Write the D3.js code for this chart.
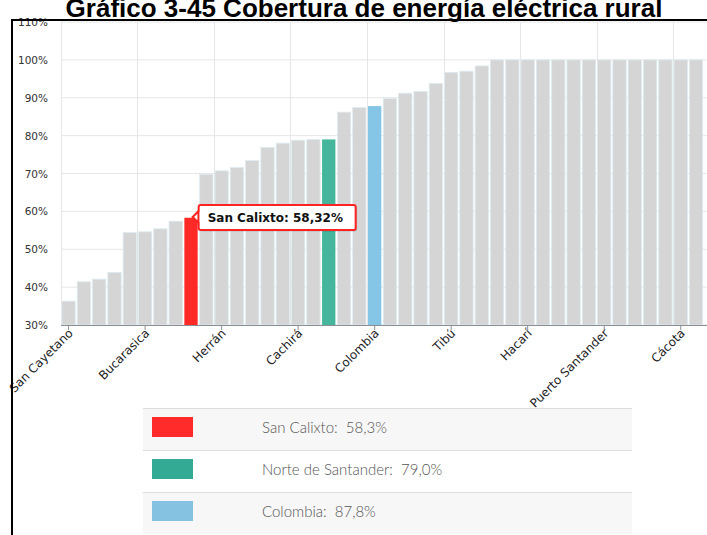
<!DOCTYPE html>
<html><head><meta charset="utf-8">
<script src="https://cdn.jsdelivr.net/npm/d3@7"></script>
<style>
html,body{margin:0;padding:0;background:#fff;overflow:hidden;}
svg{display:block;}
</style></head>
<body>
<svg id="chart" width="707" height="535"></svg>
<script>
const title = "Gráfico 3-45 Cobertura de energía eléctrica rural";
const categories = ["San Cayetano","m1","m2","m3","m4","Bucarasica","m6","m7","San Calixto","m9",
 "Herrán","m11","m12","m13","m14","Cachirá","m16","Norte de Santander","m18","m19",
 "Colombia","m21","m22","m23","m24","Tibú","m26","m27","m28","m29",
 "Hacarí","m31","m32","m33","m34","Puerto Santander","m36","m37","m38","m39",
 "Cácota","m41"];
const values = [36.3,41.4,42.1,43.9,54.4,54.6,55.4,57.4,58.32,69.8,
 70.7,71.6,73.4,76.9,78.0,78.8,79.0,79.0,86.2,87.4,
 87.8,89.8,91.2,91.7,93.8,96.7,97.0,98.4,100,100,
 100,100,100,100,100,100,100,100,100,100,
 100,100];
const tickLabels = ["San Cayetano","Bucarasica","Herrán","Cachirá","Colombia","Tibú","Hacarí","Puerto Santander","Cácota"];
const highlightNames = ["San Calixto","Norte de Santander","Colombia"];
const highlightColors = ["#ff2a26","#45b59b","#85c5e6"];
const legendLabels = ["San Calixto:  58,3%","Norte de Santander:  79,0%","Colombia:  87,8%"];
const legendColors = ["#ff2a2a","#33ab94","#85c1e1"];
const yTicks = [30,40,50,60,70,80,90,100,110];
const tooltipText = "San Calixto: 58,32%";

const svg = d3.select("#chart");
const x = d3.scaleBand().domain(d3.range(categories.length)).range([61, 61 + categories.length*15.3]).paddingInner(0.13).paddingOuter(0.06);
const y = d3.scaleLinear().domain([30,110]).range([325,22]);

// gridlines
svg.append("g").selectAll("line.h").data(yTicks).join("line")
  .attr("x1",61).attr("x2",707).attr("y1",d=>y(d)).attr("y2",d=>y(d))
  .attr("stroke","#e6e6e6").attr("stroke-width",1);
const tickIdx = d3.range(0, categories.length, 5);
svg.append("g").selectAll("line.v").data(tickIdx).join("line")
  .attr("x1",d=>Math.round(x(d)-x.step()*x.paddingInner()/2)+0.5)
  .attr("x2",d=>Math.round(x(d)-x.step()*x.paddingInner()/2)+0.5)
  .attr("y1",y(110)).attr("y2",y(30))
  .attr("stroke","#e6e6e6").attr("stroke-width",1);

// bars
svg.append("g").selectAll("rect").data(values).join("rect")
  .attr("x",(d,i)=>x(i)).attr("width",x.bandwidth())
  .attr("y",d=>y(d)).attr("height",d=>y(30)-y(d))
  .attr("fill",(d,i)=>{const k=highlightNames.indexOf(categories[i]);return k>=0?highlightColors[k]:"#d5d5d5";})
  .attr("stroke",(d,i)=>highlightNames.indexOf(categories[i])>=0?"none":"#dcebf1")
  .attr("stroke-width",0.8);

// y labels
svg.append("g").selectAll("text").data(yTicks).join("text")
  .attr("x",48).attr("y",d=>y(d)+4).attr("text-anchor","end")
  .attr("font-family","DejaVu Sans, Verdana, sans-serif").attr("font-size","10.5px").attr("fill","#333")
  .text(d=>d+"%");

// x axis
const xAxis = d3.axisBottom(x).tickValues(tickIdx).tickSize(5).tickSizeOuter(0)
  .tickFormat(i=>categories[i]);
const gx = svg.append("g").attr("transform","translate(0,325)").call(xAxis);
gx.select(".domain").attr("stroke","#8a8f95").attr("d","M61,0.5H707");
gx.selectAll(".tick line").attr("stroke","#8a8f95");
gx.selectAll(".tick text")
  .attr("font-family","DejaVu Sans, Verdana, sans-serif").attr("font-size","12px").attr("fill","#222")
  .attr("text-anchor","end").attr("dy",null).attr("y",0)
  .attr("transform","translate(5,9) rotate(-45)");

// tooltip
const tip = svg.append("g");
const tx = x(8) + x.bandwidth() + 1, ty = 205, tw = 157, th = 25;
tip.append("rect").attr("x",tx+1.5).attr("y",ty+1.5).attr("width",tw).attr("height",th).attr("fill","rgba(0,0,0,0.15)").attr("rx",2);
tip.append("path").attr("d",`M${tx},${ty+6} L${tx-6},${ty+12} L${tx},${ty+18} Z`).attr("fill","#fff").attr("stroke","#ff2222").attr("stroke-width",2);
tip.append("rect").attr("x",tx).attr("y",ty).attr("width",tw).attr("height",th).attr("fill","#fff").attr("stroke","#ff2222").attr("stroke-width",2).attr("rx",2);
tip.append("rect").attr("x",tx+1).attr("y",ty+7).attr("width",3).attr("height",10).attr("fill","#fff");
tip.append("text").attr("x",tx+9).attr("y",ty+17)
  .attr("font-family","DejaVu Sans, Verdana, sans-serif").attr("font-weight","bold").attr("font-size","12px").attr("fill","#111")
  .text(tooltipText);

// legend
const lg = svg.append("g");
const rowH = 42, ly0 = 408;
legendLabels.forEach((t,i)=>{
  const yy = ly0 + i*rowH;
  lg.append("rect").attr("x",143).attr("y",yy).attr("width",489).attr("height",rowH).attr("fill", i===1?"#ffffff":"#f7f7f7");
  lg.append("line").attr("x1",143).attr("x2",632).attr("y1",yy+0.5).attr("y2",yy+0.5).attr("stroke","#dddddd");
  lg.append("rect").attr("x",152).attr("y",yy+9).attr("width",41).attr("height",20).attr("fill",legendColors[i]);
  lg.append("text").attr("x",262).attr("y",yy+25)
    .attr("font-family","Lato, 'Open Sans', sans-serif").attr("font-weight","300").attr("font-size","15px").attr("fill","#555")
    .style("white-space","pre")
    .text(t);
});

// frame
svg.append("line").attr("x1",12).attr("x2",707).attr("y1",20).attr("y2",20).attr("stroke","#000").attr("stroke-width",2);
svg.append("line").attr("x1",12).attr("x2",12).attr("y1",19).attr("y2",535).attr("stroke","#000").attr("stroke-width",2);

// title
svg.append("text").attr("x",364).attr("y",17).attr("text-anchor","middle")
  .attr("font-family","Liberation Sans, Arial, sans-serif").attr("font-weight","bold").attr("font-size","26px").attr("fill","#000")
  .text(title);
</script>
</body></html>
